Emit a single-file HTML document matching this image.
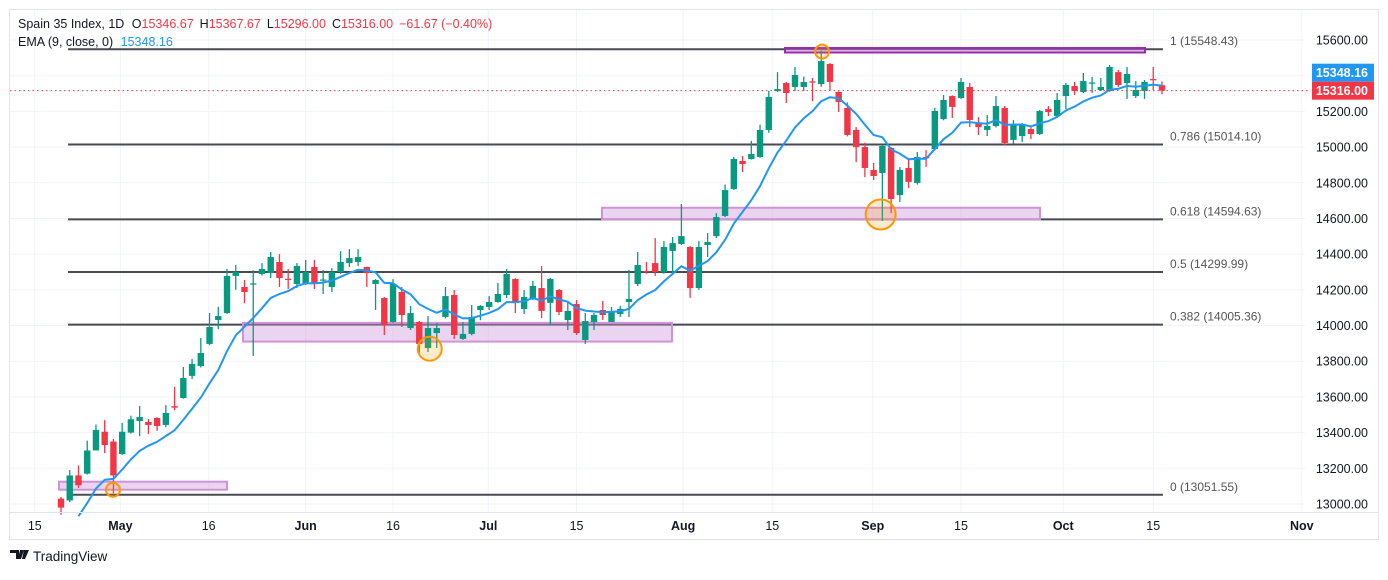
<!DOCTYPE html>
<html><head><meta charset="utf-8"><style>
html,body{margin:0;padding:0;background:#fff;}
body{width:1388px;height:575px;overflow:hidden;font-family:"Liberation Sans",sans-serif;}
svg text{font-family:"Liberation Sans",sans-serif;}
</style></head><body>
<svg id="chart" width="1388" height="575" xmlns="http://www.w3.org/2000/svg">
<rect x="9.5" y="9.5" width="1369" height="530" fill="#fff" stroke="#e0e3eb"/>
<g id="grid"></g>
<g id="fib"></g>
<g id="rects"></g>
<g id="candles"></g>
<g id="ema"></g>
<g id="circles"></g>
<line x1="10" y1="512.5" x2="1378" y2="512.5" stroke="#e0e3eb"/>
<g id="yaxis"></g>
<g id="xaxis"></g>
<text x="18" y="28" font-size="12.5" fill="#131722">Spain 35 Index, 1D <tspan dx="4">O</tspan><tspan fill="#f23645">15346.67</tspan><tspan dx="6">H</tspan><tspan fill="#f23645">15367.67</tspan><tspan dx="6">L</tspan><tspan fill="#f23645">15296.00</tspan><tspan dx="6">C</tspan><tspan fill="#f23645">15316.00</tspan><tspan dx="6" fill="#f23645">−61.67 (−0.40%)</tspan></text>
<text x="18" y="46" font-size="12.5" fill="#131722">EMA (9, close, 0) <tspan dx="4" fill="#2196f3">15348.16</tspan></text>
<g>
<path d="M10 550h9v9h-3v-6h-6z M20 550h4l-3 9h-3z M24 550h5l-4 9h-3z" fill="#131722"/>
<text x="33" y="561" font-size="13.5" fill="#131722">TradingView</text>
</g>
</svg>
<script>
const opens=[13030,13020,13160,13170,13300,13405,13350,13280,13400,13465,13460,13482,13443,13548,13594,13718,13773,13897,14031,14070,14278,14216,14230,
14289,14294,14356,14262,14233,14238,14328,14252,14216,14300,14350,14356,14328,14233,14154,14020,14188,13986,14020,13874,13958,14048,14171,13925,13953,
14087,14104,14132,14171,14261,14093,14154,14210,14127,14199,14031,14121,13919,14020,14087,14020,14065,14132,14233,14306,14350,14300,14418,14457,14440,14210,14451,
14501,14614,14765,14922,14933,14944,15096,15314,15359,15337,15337,15368,15353,15466,15309,15219,15096,15000,14872,14855,14995,14731,14883,14799,14944,14989,
15157,15286,15275,15337,15135,15096,15118,15219,15040,15062,15101,15073,15213,15174,15286,15342,15309,15359,15320,15314,15420,15359,15286,15314,15381,15346.67];
const highs=[13040,13190,13215,13355,13445,13470,13365,13455,13495,13550,13476,13487,13555,13656,13768,13813,13930,14070,14105,14317,14340,14255,14310,
14350,14412,14400,14317,14350,14367,14367,14311,14322,14417,14428,14428,14330,14260,14160,14260,14216,14110,14025,14053,14014,14216,14199,14020,14115,
14115,14165,14238,14317,14265,14199,14250,14334,14267,14205,14132,14143,14070,14070,14138,14104,14110,14311,14412,14356,14490,14473,14496,14681,14445,14473,14518,
14630,14790,14945,14950,15035,15125,15315,15420,15365,15449,15395,15387,15540,15470,15312,15250,15112,15025,14911,15012,15000,14888,14939,14972,14983,15220,
15292,15290,15387,15359,15168,15180,15286,15230,15152,15135,15118,15208,15230,15303,15359,15365,15415,15393,15387,15460,15432,15449,15370,15376,15449,15367.67];
const lows=[12940,13010,13090,13165,13300,13285,13060,13275,13395,13380,13392,13410,13430,13525,13590,13700,13765,13890,13980,14065,14200,14125,13830,
14280,14266,14216,14205,14210,14227,14205,14177,14188,14290,14328,14333,14216,14087,13947,14015,13992,13975,13847,13852,13874,14040,13925,13920,13945,
14030,14087,14127,14154,14070,14065,14143,14042,14003,14059,13975,13947,13897,13975,14031,14020,14048,14048,14222,14290,14278,14290,14283,14451,14155,14200,14384,
14490,14608,14760,14860,14930,14940,15080,15308,15247,15314,15314,15258,15337,15314,15197,15060,14916,14832,14815,14586,14630,14692,14770,14790,14888,14980,
15150,15163,15270,15112,15068,15062,15110,15012,15020,15028,15045,15068,15174,15163,15213,15292,15303,15303,15314,15310,15337,15270,15275,15270,15320,15296];
const closes=[12980,13160,13105,13300,13415,13330,13160,13405,13475,13488,13443,13437,13510,13540,13706,13785,13846,13992,14053,14278,14300,14188,14236,
14317,14384,14266,14258,14334,14300,14233,14258,14300,14356,14378,14384,14294,14255,14003,14233,14059,14070,13897,13986,13986,14165,13947,13953,14048,
14110,14132,14177,14289,14127,14160,14222,14082,14261,14076,14082,13958,14025,14059,14059,14082,14093,14149,14339,14300,14300,14440,14462,14501,14210,14440,14468,
14608,14759,14933,14905,14961,15096,15281,15325,15303,15404,15365,15362,15482,15365,15253,15068,15000,14883,14838,15006,14709,14872,14805,14944,14939,15202,
15264,15225,15365,15152,15112,15118,15230,15023,15129,15129,15073,15202,15196,15264,15348,15314,15370,15362,15337,15449,15348,15410,15320,15365,15375,15316];
const fibLevels=[1,0.786,0.618,0.5,0.382,0];
const fibValues=[15548.43,15014.10,14594.63,14299.99,14005.36,13051.55];
const yTicks=[15600,15400,15200,15000,14800,14600,14400,14200,14000,13800,13600,13400,13200,13000];
const xTickLabels=["15","May","16","Jun","16","Jul","15","Aug","15","Sep","15","Oct","15","Nov"];
const xTickBars=[-3,6.8,16.9,28,38,48.9,59,71.2,81.4,92.9,103,114.7,125,142];
const emaSeed=12780;
const lastEma=15348.16, lastClose=15316.00;

const NS="http://www.w3.org/2000/svg";
const X=i=>61+i*8.738;
const Y=v=>40+(15600-v)*464/2600;
function mk(tag,parent,attrs){const e=document.createElementNS(NS,tag);for(const k in attrs)e.setAttribute(k,attrs[k]);document.getElementById(parent).appendChild(e);return e;}

yTicks.forEach(v=>{const l=mk('line','grid',{x1:10,x2:1305,y1:Y(v),y2:Y(v),stroke:'#f0f3fa'});


const t=mk('text','yaxis',{x:1368,y:Y(v)+4.5,'font-size':12.5,fill:'#131722','text-anchor':'end'});t.textContent=v.toFixed(2);

});
xTickLabels.forEach((s,k)=>{const x=X(xTickBars[k]);const l=mk('line','grid',{x1:x,x2:x,y1:10,y2:512,stroke:'#f0f3fa'});


const t=mk('text','xaxis',{x:x,y:530,'font-size':12.5,fill:'#131722','text-anchor':'middle','font-weight':/[A-Z]/.test(s)?'bold':'normal'});t.textContent=s;

});

fibValues.forEach((v,k)=>{const l=mk('line','fib',{x1:68,x2:1163,y1:Y(v),y2:Y(v),stroke:'#4a4a52','stroke-width':2});


const t=mk('text','fib',{x:1170,y:Y(v)-4,'font-size':12,fill:'#555'});t.textContent=fibLevels[k]+' ('+v.toFixed(2)+')';

});

[[59,227,13125,13080,'#ce93d8'],[243,672,14015,13910,'#ce93d8'],[602,1040,14660,14595,'#ce93d8'],[785,1145,15555,15530,'#9c27b0']].forEach(r=>{
const e=mk('rect','rects',{x:r[0],y:Y(r[2]),width:r[1]-r[0],height:Y(r[3])-Y(r[2]),fill:'rgba(206,147,216,0.4)',stroke:r[4],'stroke-width':2});

});

closes.forEach((c,i)=>{const o=opens[i],up=c>=o,col=up?'#089981':'#f23645',x=X(i);
const w=mk('line','candles',{x1:x,x2:x,y1:Y(highs[i]),y2:Y(lows[i]),stroke:col,'stroke-width':1.3});


const top=Y(Math.max(o,c)),bot=Y(Math.min(o,c));
const b=mk('rect','candles',{x:x-3.2,y:top,width:6.4,height:Math.max(1.2,bot-top),fill:col});

});

let e=emaSeed,pts=[];const k=2/10;
closes.forEach((c,i)=>{e=c*k+e*(1-k);if(i>=2)pts.push(X(i).toFixed(1)+','+Y(e).toFixed(1));});
const pl=mk('polyline','ema',{points:pts.join(' '),fill:'none',stroke:'#2196f3','stroke-width':2});



[[5.95,13080,7],[42.2,13870,12],[93.8,14622,15],[87.1,15535,7]].forEach(c=>{
const ci=mk('circle','circles',{cx:X(c[0]),cy:Y(c[1]),r:c[2],fill:'rgba(255,152,0,0.2)',stroke:'#ff9800','stroke-width':2});

});

const dl=mk('line','yaxis',{x1:10,x2:1310,y1:Y(lastClose),y2:Y(lastClose),stroke:'#f23645','stroke-dasharray':'1.5,3'});


const closeY=Y(lastClose);
let emaY=Y(lastEma); if(closeY-emaY<18) emaY=closeY-18;
[[lastEma,emaY,'#2196f3','ema-price-label'],[lastClose,closeY,'#f23645','last-price-label']].forEach(p=>{
const r=mk('rect','yaxis',{x:1312,y:p[1]-9,width:62,height:18,fill:p[2]});


const t=mk('text','yaxis',{x:1368,y:p[1]+4.5,'font-size':12.5,fill:'#fff','text-anchor':'end','font-weight':'bold'});t.textContent=p[0].toFixed(2);

});
</script>
</body></html>
